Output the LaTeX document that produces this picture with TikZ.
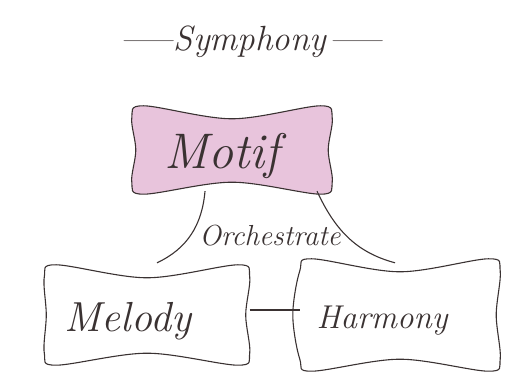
\documentclass[tikz,border=0pt]{standalone}
\usepackage{amsmath}
\usepackage{graphicx}
\usepackage{tikz}
\usetikzlibrary{calc}

\definecolor{motifpink}{HTML}{E8C4DC}
\definecolor{ink}{HTML}{3A3232}

% rough bone-like outline round a node: #1 node, #2 fill, #3 shift of the west side
\newcommand{\bonebox}[3]{%
\draw[ink, line width=1.1pt, fill=#2] plot[smooth cycle, tension=0.55] coordinates {
  ($(#1.north west)+(12,0)$) ($(#1.north)+(0,-13)$) ($(#1.north east)+(-12,0)$)
  ($(#1.north east)+(0,-12)$) ($(#1.east)+(-4,0)$) ($(#1.south east)+(0,12)$)
  ($(#1.south east)+(-12,0)$) ($(#1.south)+(0,12)$) ($(#1.south west)+(12,0)$)
  ($(#1.south west)+(0,12)$) ($(#1.west)+(#3,0)$) ($(#1.north west)+(0,-12)$)};}
\newcommand{\longdash}{\scalebox{1.6}[1]{---}}

\begin{document}
\begin{tikzpicture}[x=1pt,y=1pt,>=latex]
\useasboundingbox (0,0) rectangle (508,382);
\tikzset{word/.style={ink, font=\itshape}}

\node[name=title, word, font=\itshape\fontsize{35}{35}\selectfont] at (250,340) {\longdash Symphony\longdash};
\node[name=motif, minimum width=200pt, minimum height=88pt] at (232,232) {};
\node[name=melody, minimum width=205pt, minimum height=100pt] at (147,67) {};
\node[name=harmony, minimum width=200pt, minimum height=112pt] at (400,67) {};

\bonebox{motif}{motifpink}{4}
\bonebox{melody}{white}{2}
\bonebox{harmony}{white}{-7}

\node[name=motif_text, word, font=\itshape\fontsize{50}{50}\selectfont] at ($(motif)+(-10,-6)$) {Motif};
\node[name=melody_text, word, font=\itshape\fontsize{42}{42}\selectfont] at ($(melody)+(-19,-6)$) {Melody};
\node[name=harmony_text, word, font=\itshape\fontsize{33}{33}\selectfont] at ($(harmony)+(-18,-6)$) {Harmony};

\draw[ink, line width=1.1pt] ($(motif.south)+(-27,3)$) to[out=-95,in=25] ($(melody.north)+(10,2)$);
\draw[ink, line width=1.1pt] ($(motif.south)+(85,3)$) to[out=-65,in=165] ($(harmony.north)+(-5,-4)$);
\node[name=orch, word, font=\itshape\fontsize{29}{29}\selectfont] at (270,146) {Orchestrate};

\draw[ink, line width=1.1pt] ($(melody.east)+(0,5)$) -- ($(harmony.west)+(0,5)$);

\end{tikzpicture}
\end{document}
